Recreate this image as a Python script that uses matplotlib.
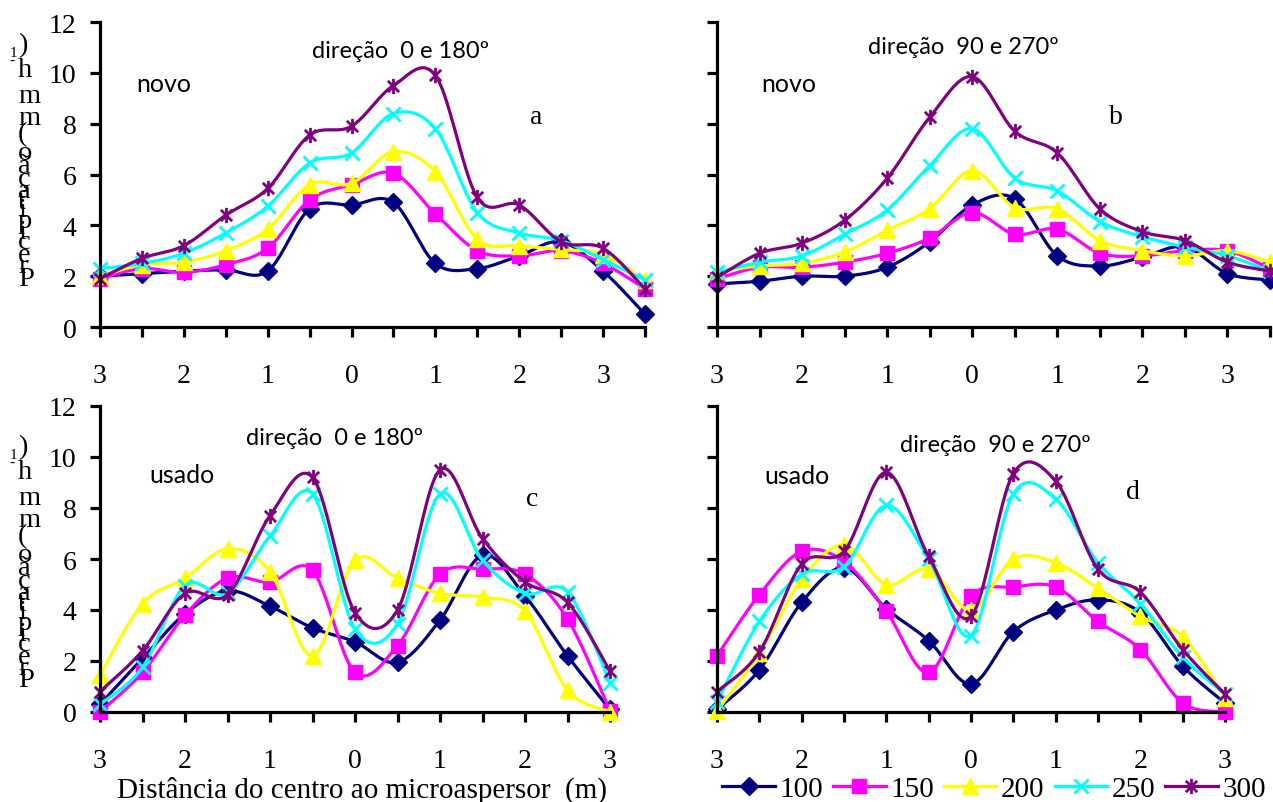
import matplotlib
matplotlib.use("Agg")
import matplotlib.pyplot as plt
import numpy as np
from matplotlib.path import Path
from matplotlib.lines import Line2D

# distances (m), top row has one extra point at the right end
x_top = [-3, -2.5, -2, -1.5, -1, -0.5, 0, 0.5, 1, 1.5, 2, 2.5, 3, 3.5]
x_bot = [-3, -2.5, -2, -1.5, -1, -0.5, 0, 0.5, 1, 1.5, 2, 2.5, 3]

series = ["100", "150", "200", "250", "300"]

# a - novo, direcao 0 e 180
a_100 = [2.0, 2.1, 2.2, 2.25, 2.2, 4.65, 4.8, 4.9, 2.5, 2.3, 2.8, 3.35, 2.2, 0.5]
a_150 = [1.9, 2.3, 2.15, 2.45, 3.1, 5.0, 5.6, 6.05, 4.45, 3.0, 2.8, 3.0, 2.5, 1.5]
a_200 = [2.0, 2.45, 2.55, 3.0, 3.85, 5.6, 5.65, 6.9, 6.1, 3.45, 3.2, 3.05, 2.85, 1.85]
a_250 = [2.3, 2.5, 2.9, 3.7, 4.75, 6.45, 6.85, 8.4, 7.8, 4.5, 3.7, 3.4, 2.65, 1.85]
a_300 = [1.9, 2.7, 3.2, 4.4, 5.45, 7.55, 7.9, 9.5, 9.9, 5.1, 4.8, 3.35, 3.1, 1.5]

# b - novo, direcao 90 e 270
b_100 = [1.7, 1.8, 2.0, 2.0, 2.35, 3.35, 4.8, 5.05, 2.8, 2.4, 2.75, 3.15, 2.1, 1.85]
b_150 = [1.9, 2.35, 2.35, 2.55, 2.9, 3.5, 4.5, 3.65, 3.85, 2.9, 2.8, 3.0, 3.0, 2.3]
b_200 = [2.2, 2.4, 2.5, 2.95, 3.8, 4.65, 6.15, 4.7, 4.65, 3.4, 3.0, 2.8, 3.0, 2.55]
b_250 = [2.15, 2.55, 2.8, 3.65, 4.6, 6.35, 7.8, 5.85, 5.35, 4.15, 3.55, 3.15, 2.8, 2.2]
b_300 = [1.95, 2.9, 3.3, 4.2, 5.85, 8.25, 9.85, 7.7, 6.85, 4.65, 3.75, 3.4, 2.55, 2.2]

# c - usado, direcao 0 e 180
c_100 = [0.3, 2.1, 3.85, 4.75, 4.15, 3.3, 2.75, 1.95, 3.6, 6.15, 4.55, 2.2, 0.1]
c_150 = [0.0, 1.55, 3.8, 5.25, 5.1, 5.55, 1.55, 2.6, 5.4, 5.6, 5.4, 3.65, 0.05]
c_200 = [1.45, 4.25, 5.25, 6.4, 5.5, 2.2, 5.95, 5.25, 4.65, 4.5, 3.95, 0.85, 0.0]
c_250 = [0.3, 1.75, 4.95, 4.65, 6.9, 8.55, 3.25, 3.45, 8.55, 5.95, 4.65, 4.7, 1.15]
c_300 = [0.8, 2.4, 4.65, 4.6, 7.7, 9.2, 3.9, 4.0, 9.5, 6.8, 5.1, 4.3, 1.6]

# d - usado, direcao 90 e 270
d_100 = [0.1, 1.65, 4.3, 5.65, 4.05, 2.8, 1.1, 3.15, 4.0, 4.4, 3.9, 1.8, 0.35]
d_150 = [2.2, 4.6, 6.3, 5.9, 3.95, 1.55, 4.55, 4.9, 4.9, 3.55, 2.45, 0.35, 0.0]
d_200 = [0.05, 2.3, 5.2, 6.55, 5.0, 5.6, 4.0, 6.0, 5.85, 4.85, 3.75, 2.95, 0.55]
d_250 = [0.4, 3.55, 5.4, 5.7, 8.1, 6.0, 3.0, 8.55, 8.35, 5.85, 4.25, 2.15, 0.7]
d_300 = [0.8, 2.35, 5.8, 6.3, 9.4, 6.1, 3.75, 9.35, 9.05, 5.6, 4.7, 2.45, 0.7]

colors = ["#000080", "#FF00FF", "#FFFF00", "#00FFFF", "#800080"]

star = Path([(-1, -1), (1, 1), (-1, 1), (1, -1), (0, -1.35), (0, 1.35)],
            [Path.MOVETO, Path.LINETO, Path.MOVETO, Path.LINETO, Path.MOVETO, Path.LINETO])
markers = [("D", 9), ("s", 10), ("^", 11), ("x", 10), (star, 11)]

serif = "Liberation Serif"
sans = "Lato"


def smooth(x, y, n=24):
    # excel-like smoothed line (bezier through the points)
    pts = np.column_stack([x, y]).astype(float)
    P = np.vstack([pts[0], pts, pts[-1]])
    out = []
    t = np.linspace(0, 1, n)[:, None]
    for i in range(len(pts) - 1):
        p0, p1, p2, p3 = P[i], P[i + 1], P[i + 2], P[i + 3]
        c1 = p1 + (p2 - p0) / 6
        c2 = p2 - (p3 - p1) / 6
        seg = (1 - t) ** 3 * p1 + 3 * (1 - t) ** 2 * t * c1 + 3 * (1 - t) * t ** 2 * c2 + t ** 3 * p2
        out.append(seg if i == 0 else seg[1:])
    return np.vstack(out)


W, H = 1273, 803
fig = plt.figure(figsize=(W / 100, H / 100), dpi=100)


def box(l, r, b, t):
    return [l / W, 1 - b / H, (r - l) / W, (b - t) / H]


panels = [
    (box(100, 645, 328, 23), x_top, [a_100, a_150, a_200, a_250, a_300], True),
    (box(717, 1270, 328, 23), x_top, [b_100, b_150, b_200, b_250, b_300], False),
    (box(100, 610, 713, 407), x_bot, [c_100, c_150, c_200, c_250, c_300], True),
    (box(717, 1225, 713, 407), x_bot, [d_100, d_150, d_200, d_250, d_300], False),
]

axes = []
for rect, xs, ys, left in panels:
    ax = fig.add_axes(rect)
    for vals, col, (mk, ms) in zip(ys, colors, markers):
        s = smooth(xs, vals)
        ax.plot(s[:, 0], s[:, 1], color=col, lw=2.3, clip_on=False, solid_capstyle="round")
        ax.plot(xs, vals, ls="none", marker=mk, ms=ms, color=col, mec=col,
                mew=2 if mk in ("x",) or mk is star else 1, clip_on=False)
    ax.set_xlim(xs[0], xs[-1])
    ax.set_ylim(0, 12)
    for sp in ["top", "right"]:
        ax.spines[sp].set_visible(False)
    for sp in ["left", "bottom"]:
        ax.spines[sp].set_linewidth(2.3)
    ints = [v for v in xs if float(v).is_integer()]
    halves = [v for v in xs if not float(v).is_integer()]
    ax.set_xticks(ints)
    ax.set_xticklabels([str(abs(int(v))) for v in ints])
    ax.set_xticks(halves, minor=True)
    ax.set_yticks(range(0, 13, 2))
    ax.tick_params(axis="both", which="both", direction="out", length=7, width=2.3,
                   labelsize=20)
    ax.tick_params(axis="x", which="both", pad=19)
    ax.tick_params(axis="y", pad=10)
    for lab in ax.get_xticklabels() + ax.get_yticklabels():
        lab.set_fontfamily(serif)
    if not left:
        ax.set_yticklabels([])
    axes.append(ax)


def ftext(x, y, s, **kw):
    fig.text(x / W, 1 - y / H, s, **kw)


# panel annotations
ftext(401, 52, "direção  0 e 180º", family=sans, fontsize=17, ha="center", va="center")
ftext(164, 85, "novo", family=sans, fontsize=18, ha="center", va="center")
ftext(536, 118, "a", family=serif, fontsize=20, ha="center", va="center")
ftext(963, 48, "direção  90 e 270º", family=sans, fontsize=17, ha="center", va="center")
ftext(789, 85, "novo", family=sans, fontsize=18, ha="center", va="center")
ftext(1116, 118, "b", family=serif, fontsize=20, ha="center", va="center")
ftext(335, 439, "direção  0 e 180º", family=sans, fontsize=17, ha="center", va="center")
ftext(182, 476, "usado", family=sans, fontsize=18, ha="center", va="center")
ftext(532, 500, "c", family=serif, fontsize=20, ha="center", va="center")
ftext(995, 446, "direção  90 e 270º", family=sans, fontsize=17, ha="center", va="center")
ftext(797, 477, "usado", family=sans, fontsize=18, ha="center", va="center")
ftext(1133, 493, "d", family=serif, fontsize=20, ha="center", va="center")

ftext(362, 790, "Distância do centro ao microaspersor  (m)", family=serif, fontsize=21,
      ha="center", va="center")

# y label, drawn like the reference: letters stacked upward, each unrotated
adv = {"P": .556, "r": .333, "e": .444, "c": .444, "i": .278, "p": .5, "t": .278,
       "a": .444, "ç": .444, "ã": .444, "o": .5, " ": .25, "(": .333, "m": .778,
       "h": .5, ")": .333}
em = 28.5
for p_center in (279, 681):
    base = p_center + adv["P"] / 2 * em
    cum = 0.0
    for ch in "Precipitação (mm h":
        if ch != " ":
            ftext(18, base - (cum + adv[ch] / 2) * em, ch, family=serif, fontsize=20.5,
                  ha="left", va="center")
        cum += adv[ch]
    ftext(9, base - (cum + 0.1) * em, "-", family=serif, fontsize=11, ha="left", va="center")
    ftext(10, base - (cum + 0.35) * em, "1", family=serif, fontsize=11, ha="left", va="center")
    cum += 0.48
    ftext(18, base - (cum + adv[")"] / 2) * em, ")", family=serif, fontsize=20.5,
          ha="left", va="center")

handles = []
for col, (mk, ms) in zip(colors, markers):
    handles.append(Line2D([], [], color=col, lw=2.3, marker=mk, ms=ms, mec=col,
                          mew=2 if mk == "x" or mk is star else 1))
fig.legend(handles, series, loc="center", bbox_to_anchor=(994 / W, 1 - 790 / H),
           ncol=5, frameon=False, prop={"family": serif, "size": 21},
           handlelength=1.8, handletextpad=0.15, columnspacing=0.35, borderpad=0)

fig.savefig("out.png", dpi=100)
